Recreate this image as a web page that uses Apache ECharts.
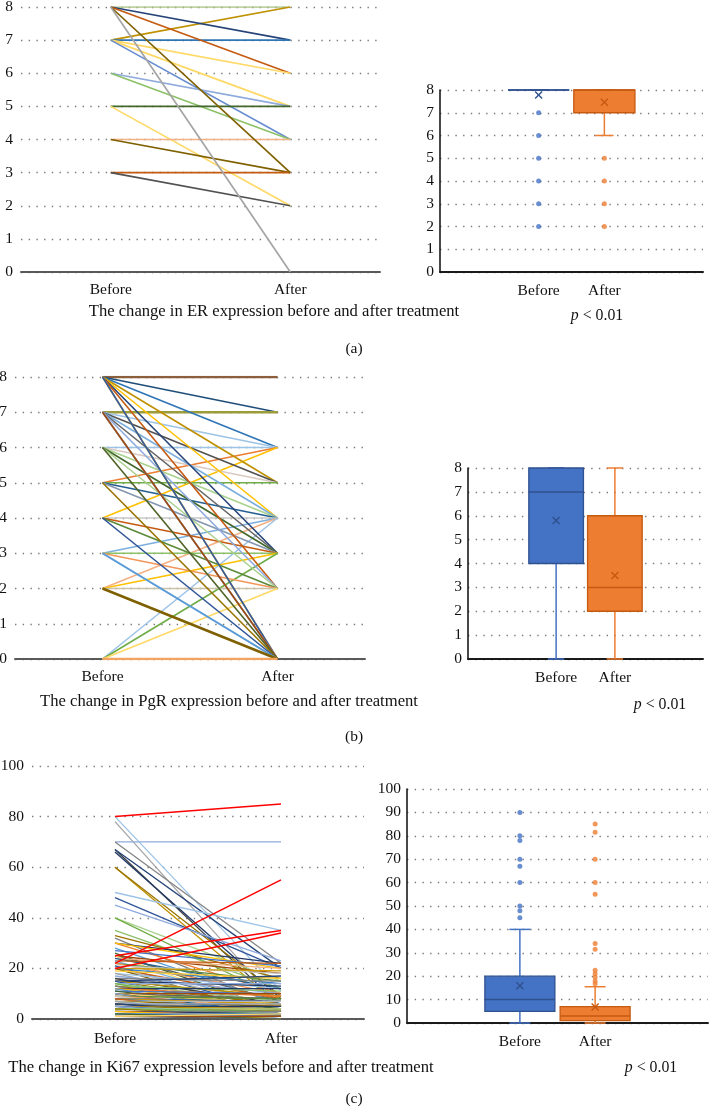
<!DOCTYPE html>
<html>
<head>
<meta charset="utf-8">
<script src="https://cdn.jsdelivr.net/npm/echarts@6/dist/echarts.min.js"></script>
<style>
html,body{margin:0;padding:0;background:#fff;}
#chart{width:709px;height:1108px;}
</style>
</head>
<body>
<div id="chart"></div>
<script>
(function(){

  var groups = ['Before', 'After'];

  // (a) ER score, one entry per patient line
  var erBefore = [8,7,8,7,8,7,7,7,6,6,5,5,4,4,3,3,8,8];
  var erAfter  = [8,8,7,7,6,6,5,4,5,4,5,2,4,3,3,2,3,0];
  var erBox  = [[8,8,8,8,8],[6,7,8,8,8]];   // min, Q1, median, Q3, max
  var erMean = [7.78, 7.46];
  var erOutBefore = [7,6,5,4,3,2];
  var erOutAfter  = [5,4,3,2];

  // (b) PgR score
  var pgrBefore = [8,8,7,8,7,6,5,4,8,7,6,5,8,7,6,5,4,3,2,0,8,7,6,5,4,3,2,0,8,7,6,4,3,2,0,8,8,7,7,7,6,5,4,3,3,2,0];
  var pgrAfter  = [8,7,7,6,6,6,6,6,5,5,5,5,4,4,4,4,4,4,4,4,3,3,3,3,3,3,3,3,2,2,2,2,2,2,2,0,0,0,0,0,0,0,0,0,0,0,0];
  var pgrBox  = [[0,4,7,8,8],[0,2,3,6,8]];
  var pgrMean = [5.8, 3.5];

  // (c) Ki67 %
  var kiBefore = [80,78,70,70,67,67,66,60,60,50,48,45,40,40,35,33,32,30,30,30,
                  28,27,26,25,25,25,24,24,23,23,22,22,21,21,20,20,20,20,20,19,
                  18,18,17,16,16,15,15,15,15,15,15,14,14,14,13,13,13,12,12,12,
                  12,11,11,10,10,10,10,10,10,10,9,9,9,8,8,8,8,7,7,7,
                  7,7,6,6,6,6,5,5,5,5,5,5,4,4,4,4,3,3,3,3,
                  2,2,2,1,1,1];
  var kiAfter  = [11,5,70,22,5,20,8,5,9,35,20,23,15,8,12,16,5,22,10,20,
                  6,21,3,18,7,2,20,12,22,4,15,10,18,3,19,14,8,5,1,16,
                  12,4,10,15,6,17,13,9,5,2,1,14,7,3,11,6,2,12,9,5,
                  1,10,4,10,8,6,3,2,1,0,8,5,2,7,6,3,1,7,5,3,
                  2,0,6,4,2,1,5,4,3,2,1,0,4,3,2,1,3,2,1,0,
                  2,1,0,1,0,2];
  var kiUpBefore = [80,22,25,20];
  var kiUpAfter  = [85,55,35,34];
  var kiBox  = [[0,5,10,20,40],[0,1,3,7,15.5]];
  var kiMean = [15.9, 6.8];
  var kiOutBefore = [90,80,78,70,67,60,50,48,45];
  var kiOutAfter  = [85,81.5,70,60,55,34,31.5,22.5,21,19.5,18,16.8];

  // line colours (Excel-like)
  var erColors = ['#A9C47F','#BF9000','#264478','#2E75B6','#C55A11','#FFD966','#FFD966','#698ED0','#8FAADC',
                  '#8CC168','#43682B','#FFD966','#F4B183','#7F6000','#C55A11','#525252','#7F6000','#A5A5A5'];
  var pgrColors = ['#8B5E3C','#1F4E79','#9C9C3A','#2E75B6','#9DC3E6','#9DC3E6','#ED7D31','#FFC000','#BF9000','#525252',
                   '#D9C9C0','#70AD47','#FFC000','#7CAFDD','#A9D18E','#255E91','#C9C9C9','#7CAFDD','#F4B183','#9DC3E6',
                   '#264478','#636363','#43682B','#8497B0','#C55A11','#8CC168','#FFC000','#70AD47','#C55A11','#8FAADC',
                   '#A9D18E','#5A8A39','#F1975A','#C9C2A6','#FFD966','#FFC000','#335AA1','#848484','#9DC3E6','#9E480E',
                   '#4F6228','#997300','#2F5597','#9DC3E6','#5B9BD5','#7F6000','#F4A460'];
  var pgrBold = [0, 2, 45, 46];
  var palette = ['#9DC3E6','#A5A5A5','#8FAADC','#848484','#404040','#264478','#1F3864','#BF9000','#997300','#9DC3E6',
                 '#2F5597','#8FAADC','#A9D18E','#70AD47','#8CC168','#997300','#7F7F7F','#203864','#ED7D31','#FFC000',
                 '#5B9BD5','#4472C4','#43682B','#9E480E','#636363','#FFD966','#F4B183','#255E91','#C55A11','#7CAFDD',
                 '#5A8A39','#F1975A','#C9C9C9','#335AA1','#CC9A00','#327DC2','#D26012','#B7B7B7','#7F6000','#FFCD33'];

  var boxFill = ['#4472C4', '#ED7D31'];
  var boxEdge = ['#2F528F', '#C55A11'];
  var font = 'Liberation Serif';

  var grids = [], xAxes = [], yAxes = [], series = [];
  var dots = {color: '#7a7a7a', width: 1.4, type: [1.4, 6.3]};

  function addGrid(pos, max, step, cats, labelMargin, right) {
    var g = grids.length;
    grids.push(Object.assign({outerBoundsMode: 'none', containLabel: false}, pos));
    xAxes.push({
      gridIndex: g, type: 'category', data: cats, boundaryGap: true,
      axisLine: {show: true, lineStyle: {color: right ? '#1a1a1a' : '#595959', width: 2}},
      axisTick: {show: false},
      axisLabel: {interval: 0, margin: labelMargin, color: '#111', fontFamily: font, fontSize: 15.5},
      splitLine: {show: false}
    });
    yAxes.push({
      gridIndex: g, type: 'value', min: 0, max: max, interval: step,
      axisLine: {show: !!right, lineStyle: {color: '#1a1a1a', width: 1.6}},
      axisTick: {show: false},
      axisLabel: {margin: right ? 6 : 8, color: '#111', fontFamily: font, fontSize: 15.5},
      splitLine: {show: true, lineStyle: dots}
    });
    return g;
  }

  function addSlope(g, before, after, colors, width, bold) {
    before.forEach(function(b, i) {
      series.push({
        type: 'line', xAxisIndex: g, yAxisIndex: g,
        data: [b, after[i]], symbol: 'none', silent: true,
        lineStyle: {color: colors[i % colors.length], width: bold && bold.indexOf(i) >= 0 ? 2.6 : width}
      });
    });
  }

  function boxItem(params, api) {
    var i = params.dataIndex;
    var x = api.value(0);
    function pt(v) { return api.coord([x, v]); }
    var lo = pt(api.value(1)), q1 = pt(api.value(2)), md = pt(api.value(3));
    var q3 = pt(api.value(4)), hi = pt(api.value(5)), mn = pt(api.value(6));
    var bw = api.size([1, 0])[0] * 0.93;
    var cx = lo[0], half = bw / 2, cap = bw * 0.15, s = 3.5;
    var fill = boxFill[i], edge = boxEdge[i];
    var wStyle = {stroke: fill, lineWidth: 1.5};
    return {
      type: 'group',
      children: [
        {type: 'line', shape: {x1: cx, y1: q1[1], x2: cx, y2: lo[1]}, style: wStyle},
        {type: 'line', shape: {x1: cx, y1: q3[1], x2: cx, y2: hi[1]}, style: wStyle},
        {type: 'line', shape: {x1: cx - cap, y1: lo[1], x2: cx + cap, y2: lo[1]}, style: wStyle},
        {type: 'line', shape: {x1: cx - cap, y1: hi[1], x2: cx + cap, y2: hi[1]}, style: wStyle},
        {type: 'rect', shape: {x: cx - half, y: q3[1], width: bw, height: q1[1] - q3[1]},
         style: {fill: fill, stroke: edge, lineWidth: 1.3}},
        {type: 'line', shape: {x1: cx - half, y1: md[1], x2: cx + half, y2: md[1]}, style: {stroke: edge, lineWidth: 1.5}},
        {type: 'line', shape: {x1: mn[0] - s, y1: mn[1] - s, x2: mn[0] + s, y2: mn[1] + s}, style: {stroke: edge, lineWidth: 1.4}},
        {type: 'line', shape: {x1: mn[0] - s, y1: mn[1] + s, x2: mn[0] + s, y2: mn[1] - s}, style: {stroke: edge, lineWidth: 1.4}}
      ]
    };
  }

  function addBox(g, box, mean, outB, outA) {
    series.push({
      type: 'custom', xAxisIndex: g, yAxisIndex: g, silent: true,
      data: box.map(function(b, i) { return [i + 1].concat(b, [mean[i]]); }),
      encode: {x: 0, y: [1, 2, 3, 4, 5, 6]},
      renderItem: boxItem
    });
    [outB, outA].forEach(function(arr, k) {
      series.push({
        type: 'scatter', xAxisIndex: g, yAxisIndex: g, silent: true, z: 4,
        data: arr.map(function(v) { return [k + 1, v]; }),
        symbol: 'circle', symbolSize: 5,
        itemStyle: {color: boxFill[k]}
      });
    });
  }

  var boxCats = [''].concat(groups, ['']);

  // panel (a)
  var g = addGrid({left: 21, right: 329, top: 7, bottom: 836}, 8, 1, groups, 10, false);
  addSlope(g, erBefore, erAfter, erColors, 1.7);
  g = addGrid({left: 440, right: 6, top: 90, bottom: 836}, 8, 1, boxCats, 11, true);
  addBox(g, erBox, erMean, erOutBefore, erOutAfter);

  // panel (b)
  g = addGrid({left: 15, right: 344, top: 377, bottom: 449}, 8, 1, groups, 10, false);
  addSlope(g, pgrBefore, pgrAfter, pgrColors, 1.6, pgrBold);
  g = addGrid({left: 468, right: 6, top: 468, bottom: 449}, 8, 1, boxCats, 11, true);
  addBox(g, pgrBox, pgrMean, [], []);

  // panel (c)
  g = addGrid({left: 32, right: 345, top: 766, bottom: 89}, 100, 20, groups, 12, false);
  addSlope(g, kiBefore, kiAfter, palette, 1.3);
  addSlope(g, kiUpBefore, kiUpAfter, ['#FF0000'], 1.5);
  g = addGrid({left: 407, right: 1, top: 789, bottom: 85}, 100, 10, boxCats, 11, true);
  addBox(g, kiBox, kiMean, kiOutBefore, kiOutAfter);

  function txt(x, y, text, size, rich) {
    var st = {text: text, fontFamily: font, fontSize: size, fill: '#111', align: 'center', verticalAlign: 'middle'};
    if (rich) st.rich = {i: {fontFamily: font, fontSize: size, fontStyle: 'italic', fill: '#111'}};
    return {type: 'text', x: x, y: y, style: st, silent: true};
  }

  var chart = echarts.init(document.getElementById('chart'), null, {renderer: 'canvas'});
  var option = {
    animation: false,
    backgroundColor: '#fff',
    grid: grids,
    xAxis: xAxes,
    yAxis: yAxes,
    series: series,
    graphic: [
      txt(274, 312, 'The change in ER expression before and after treatment', 16.6),
      txt(597, 316, '{i|p} < 0.01', 15.8, true),
      txt(354, 349, '(a)', 15.5),
      txt(229, 702, 'The change in PgR expression before and after treatment', 16.6),
      txt(660, 705, '{i|p} < 0.01', 15.8, true),
      txt(354, 737, '(b)', 15.5),
      txt(221, 1068, 'The change in Ki67 expression levels before and after treatment', 16.6),
      txt(651, 1068, '{i|p} < 0.01', 15.8, true),
      txt(354, 1099, '(c)', 15.5)
    ]
  };
  chart.setOption(option);

})();
</script>
</body>
</html>
